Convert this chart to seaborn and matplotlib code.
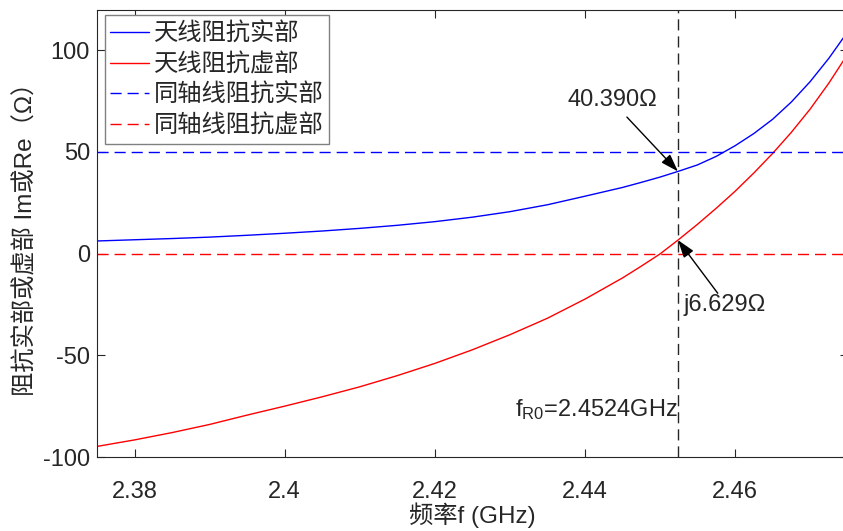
import matplotlib
matplotlib.use("Agg")
import matplotlib.pyplot as plt
import seaborn as sns
import pandas as pd

# ---- data ----
freq_ghz = [2.375, 2.380, 2.385, 2.390, 2.395, 2.400, 2.405, 2.410, 2.415, 2.420,
            2.425, 2.430, 2.435, 2.440, 2.445, 2.4475, 2.450, 2.4524, 2.455, 2.4575,
            2.460, 2.4625, 2.465, 2.4675, 2.470, 2.4725, 2.475]
ant_re = [6.2, 6.8, 7.4, 8.1, 9.0, 10.0, 11.1, 12.4, 13.9, 15.7,
          17.9, 20.6, 24.0, 28.2, 32.5, 35.0, 37.6, 40.39, 43.6, 47.8,
          53.0, 59.0, 66.0, 74.5, 84.5, 96.0, 109.0]
ant_im = [-94.8, -91.6, -88.0, -84.0, -79.4, -75.0, -70.4, -65.5, -60.0, -54.0,
          -47.3, -39.9, -31.8, -22.4, -12.0, -6.2, -0.2, 6.629, 14.4, 22.3,
          30.6, 39.6, 49.2, 59.6, 71.0, 83.8, 98.0]
coax_freq = [2.375, 2.475]
coax_re = [50, 50]
coax_im = [0, 0]
f_r0 = 2.4524
labels = ["天线阻抗实部", "天线阻抗虚部", "同轴线阻抗实部", "同轴线阻抗虚部"]

sns.set_style("ticks")
plt.rcParams['font.family'] = ['Liberation Sans', 'Noto Sans CJK SC', 'DejaVu Sans']
plt.rcParams['mathtext.fontset'] = 'custom'
plt.rcParams['mathtext.rm'] = 'Liberation Sans'
plt.rcParams['mathtext.it'] = 'Liberation Sans'
plt.rcParams['axes.unicode_minus'] = False

W, H = 843, 531
fig = plt.figure(figsize=(W / 100, H / 100), dpi=100)
ax = fig.add_axes([97 / W, 1 - 457 / H, 750.6 / W, 447.5 / H])

dash = (8, 4.3)
df = pd.DataFrame({"f": freq_ghz, "re": ant_re, "im": ant_im})
sns.lineplot(data=df, x="f", y="re", color="#0000ff", lw=1.0, ax=ax, label=labels[0])
sns.lineplot(data=df, x="f", y="im", color="#ff0000", lw=1.0, ax=ax, label=labels[1])
sns.lineplot(x=coax_freq, y=coax_re, color="#0000ff", lw=1.0, ax=ax, label=labels[2])
sns.lineplot(x=coax_freq, y=coax_im, color="#ff0000", lw=1.0, ax=ax, label=labels[3])
for ln in ax.lines[2:4]:
    ln.set_dashes(dash)
ax.axvline(f_r0, color="#262626", lw=1.0, dashes=dash)

ax.set_xlim(2.375, 2.475)
ax.set_ylim(-100, 120)
ax.set_xticks([2.38, 2.40, 2.42, 2.44, 2.46])
ax.set_xticklabels(["2.38", "2.4", "2.42", "2.44", "2.46"])
ax.set_yticks([-100, -50, 0, 50, 100])
ax.tick_params(direction="in", length=5.5, width=0.8, labelsize=17,
               top=True, right=True, colors="#262626")
ax.tick_params(axis="x", pad=17)
ax.tick_params(axis="y", pad=5)
for s in ax.spines.values():
    s.set_color("#262626")
    s.set_linewidth(0.8)

ax.set_xlabel("频率f (GHz)", fontsize=17.5, color="#262626", labelpad=0)
ax.set_ylabel("阻抗实部或虚部 Im或Re（Ω）", fontsize=17.5, color="#262626", labelpad=4)

# annotations
ap = dict(arrowstyle="-|>,head_length=0.9,head_width=0.3", color="black", lw=1.0,
          shrinkA=0, shrinkB=0, mutation_scale=12)
ax.annotate("", xy=(f_r0, 40.39), xytext=(2.4456, 67.1), arrowprops=ap)
ax.text(2.4436, 75.5, "40.390Ω", fontsize=17, ha="center", va="center")
ax.annotate("", xy=(f_r0, 6.629), xytext=(2.4577, -19.5), arrowprops=ap)
ax.text(2.4531, -25.5, "j6.629Ω", fontsize=17, ha="left", va="center")
ax.text(f_r0, -76.7, r"f$_{\mathregular{R0}}$=2.4524GHz", fontsize=17, ha="right", va="center")

leg = ax.legend(loc="upper left", bbox_to_anchor=(0.0107, 0.988), borderaxespad=0,
                fancybox=False, framealpha=1, edgecolor="#808080",
                prop={"family": ["Noto Sans CJK SC"], "size": 17.5},
                handlelength=1.6, handletextpad=0.2, labelspacing=0.2,
                borderpad=0.22)
leg.get_frame().set_linewidth(1.0)

fig.savefig("out.png", dpi=100)
